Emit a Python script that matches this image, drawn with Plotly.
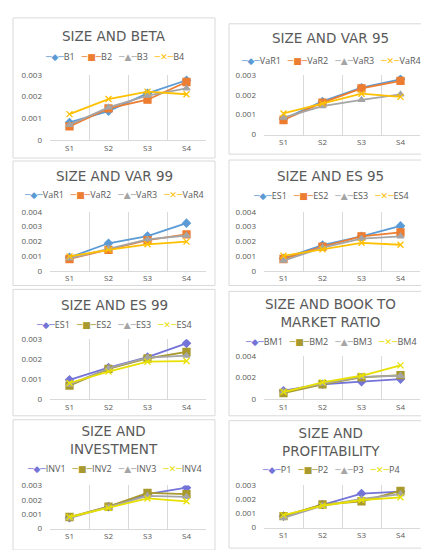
import plotly.graph_objects as go

# Data
categories = ["S1", "S2", "S3", "S4"]

beta_names = ["B1", "B2", "B3", "B4"]
beta_values = [
    [0.00082, 0.00134, 0.00215, 0.00275],
    [0.00064, 0.00146, 0.00186, 0.00267],
    [0.00071, 0.00151, 0.00205, 0.00238],
    [0.00120, 0.00189, 0.00223, 0.00211],
]

var95_names = ["VaR1", "VaR2", "VaR3", "VaR4"]
var95_values = [
    [0.00078, 0.00166, 0.00235, 0.00277],
    [0.00073, 0.00160, 0.00232, 0.00269],
    [0.00085, 0.00143, 0.00174, 0.00202],
    [0.00106, 0.00155, 0.00205, 0.00189],
]

var99_names = ["VaR1", "VaR2", "VaR3", "VaR4"]
var99_values = [
    [0.00091, 0.00187, 0.00236, 0.00324],
    [0.00080, 0.00142, 0.00209, 0.00247],
    [0.00084, 0.00151, 0.00213, 0.00240],
    [0.00098, 0.00142, 0.00180, 0.00198],
]

es95_names = ["ES1", "ES2", "ES3", "ES4"]
es95_values = [
    [0.00084, 0.00175, 0.00234, 0.00305],
    [0.00080, 0.00164, 0.00234, 0.00261],
    [0.00069, 0.00157, 0.00219, 0.00234],
    [0.00102, 0.00146, 0.00190, 0.00177],
]

es99_names = ["ES1", "ES2", "ES3", "ES4"]
es99_values = [
    [0.00097, 0.00158, 0.00211, 0.00280],
    [0.00068, 0.00152, 0.00204, 0.00237],
    [0.00073, 0.00155, 0.00208, 0.00218],
    [0.00081, 0.00138, 0.00188, 0.00191],
]

bm_names = ["BM1", "BM2", "BM3", "BM4"]
bm_values = [
    [0.00078, 0.00138, 0.00162, 0.00186],
    [0.00057, 0.00138, 0.00201, 0.00223],
    [0.00072, 0.00144, 0.00207, 0.00217],
    [0.00066, 0.00156, 0.00217, 0.00313],
]

inv_names = ["INV1", "INV2", "INV3", "INV4"]
inv_values = [
    [0.00075, 0.00152, 0.00239, 0.00284],
    [0.00080, 0.00152, 0.00248, 0.00239],
    [0.00073, 0.00148, 0.00227, 0.00220],
    [0.00080, 0.00143, 0.00209, 0.00189],
]

prof_names = ["P1", "P2", "P3", "P4"]
prof_values = [
    [0.00081, 0.00164, 0.00242, 0.00256],
    [0.00081, 0.00164, 0.00187, 0.00261],
    [0.00069, 0.00155, 0.00203, 0.00238],
    [0.00088, 0.00155, 0.00196, 0.00215],
]

# Styles
colors_a = ["#5B9BD5", "#ED7D31", "#A5A5A5", "#FFC000"]
colors_b = ["#7474D8", "#A99A2E", "#A5A5A5", "#E8E000"]
symbols = ["diamond", "square", "triangle-up", "x-thin"]
marker_sizes = [6, 7, 6, 6]
legend_glyphs = ["\u25C6", "\u25A0", "\u25B2", "\u2715"]
text_grey = "#595959"
line_grey = "#D9D9D9"

W, H = 429, 550


def px(x):
    return x / W


def py(y):
    return 1 - y / H


# (title, names, values, colours, ymax, dtick, box px, plot px, title y px, legend y px)
panels = [
    ("SIZE AND BETA", beta_names, beta_values, colors_a, 0.003, 0.001,
     (5, 4, 207, 147), (42, 62, 198, 129), 22, 43),
    ("SIZE AND VAR 95", var95_names, var95_values, colors_a, 0.003, 0.001,
     (221, 10, 424, 143), (256, 62, 412, 123), 25, 47),
    ("SIZE AND VAR 99", var99_names, var99_values, colors_a, 0.004, 0.001,
     (5, 150, 207, 277), (42, 202, 198, 262), 165, 184),
    ("SIZE AND ES 95", es95_names, es95_values, colors_a, 0.004, 0.001,
     (221, 149, 424, 277), (256, 202, 412, 262), 165, 185),
    ("SIZE AND ES 99", es99_names, es99_values, colors_b, 0.003, 0.001,
     (5, 281, 207, 410), (42, 332, 198, 393), 297, 317),
    ("SIZE AND BOOK TO<br>MARKET RATIO", bm_names, bm_values, colors_b, 0.004, 0.002,
     (221, 283, 424, 410), (256, 349, 412, 393), 305, 334),
    ("SIZE AND<br>INVESTMENT", inv_names, inv_values, colors_b, 0.003, 0.001,
     (5, 414, 207, 547), (42, 481, 198, 525), 435, 464),
    ("SIZE AND<br>PROFITABILITY", prof_names, prof_values, colors_b, 0.003, 0.001,
     (221, 415, 424, 545), (256, 481, 412, 524), 437, 465),
]

fig = go.Figure()
shapes = []
annotations = []

for i, (title, names, values, colors, ymax, dtick, box, plot, title_y, legend_y) in enumerate(panels):
    n = "" if i == 0 else str(i + 1)

    for j, (name, vals) in enumerate(zip(names, values)):
        fig.add_trace(go.Scatter(
            x=categories,
            y=vals,
            name=name,
            mode="lines+markers",
            line=dict(color=colors[j], width=1.8),
            marker=dict(symbol=symbols[j], size=marker_sizes[j], color=colors[j],
                        line=dict(color=colors[j], width=1.3)),
            xaxis="x" + n,
            yaxis="y" + n,
            showlegend=False,
        ))

    fig.update_layout({
        "xaxis" + n: dict(
            domain=[px(plot[0]), px(plot[2])],
            anchor="y" + n,
            type="category",
            range=[-0.5, 3.5],
            tickson="boundaries",
            ticks="",
            showgrid=True,
            gridcolor=line_grey,
            gridwidth=1,
            showline=True,
            linecolor=line_grey,
            linewidth=1,
            tickfont=dict(family="Open Sans", size=8, color=text_grey),
            fixedrange=True,
        ),
        "yaxis" + n: dict(
            domain=[py(plot[3]), py(plot[1])],
            anchor="x" + n,
            range=[0, ymax],
            dtick=dtick,
            tickformat="~g",
            showgrid=False,
            zeroline=False,
            showline=False,
            ticks="",
            ticklabelstandoff=7,
            tickfont=dict(family="Open Sans", size=8, color=text_grey),
            fixedrange=True,
        ),
    })

    # panel frame
    shapes.append(dict(
        type="rect", xref="paper", yref="paper",
        x0=px(box[0]), x1=px(box[2]), y0=py(box[3]), y1=py(box[1]),
        line=dict(color=line_grey, width=1), fillcolor="rgba(0,0,0,0)", layer="below",
    ))

    # title
    annotations.append(dict(
        text=title, xref="paper", yref="paper",
        x=px((box[0] + box[2]) / 2), y=py(title_y),
        xanchor="center", yanchor="middle", showarrow=False,
        font=dict(family="DejaVu Sans", size=13.5, color=text_grey),
    ))

    # legend row
    parts = []
    for j, name in enumerate(names):
        parts.append(
            '<span style="color:%s;font-family:DejaVu Sans">\u2500%s\u2500</span>%s'
            % (colors[j], legend_glyphs[j], name)
        )
    annotations.append(dict(
        text="&nbsp;&nbsp;&nbsp;".join(parts), xref="paper", yref="paper",
        x=px((box[0] + box[2]) / 2), y=py(legend_y),
        xanchor="center", yanchor="middle", showarrow=False,
        font=dict(family="Open Sans", size=9, color=text_grey),
    ))

fig.update_layout(
    width=W,
    height=H,
    margin=dict(l=0, r=0, t=0, b=0),
    plot_bgcolor="white",
    paper_bgcolor="white",
    shapes=shapes,
    annotations=annotations,
    showlegend=False,
)

fig.write_html("out.html")
